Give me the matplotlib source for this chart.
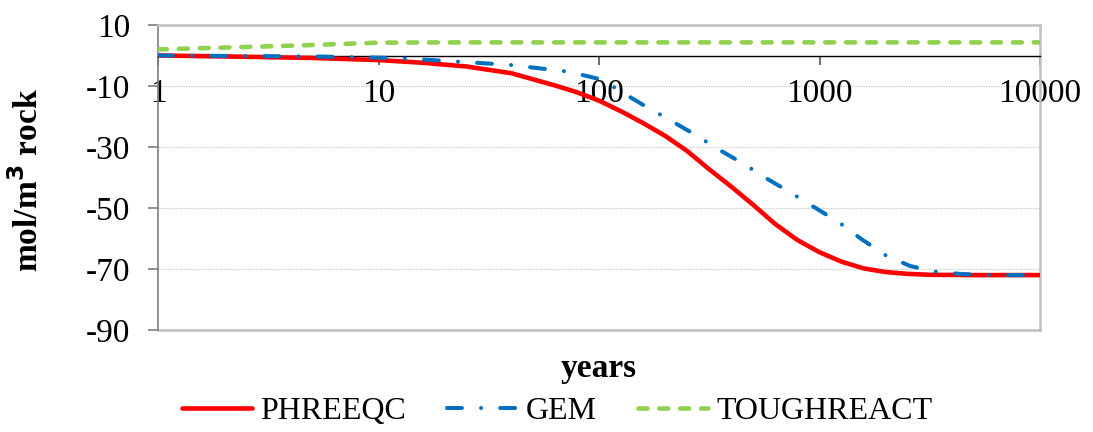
import matplotlib
matplotlib.use("Agg")
import matplotlib.pyplot as plt
from matplotlib.ticker import FixedLocator, FixedFormatter, NullLocator

plt.rcParams['font.family'] = ['Liberation Serif', 'DejaVu Serif']

# time (years) and cumulative amount (mol/m3 rock) for each code
phreeqc_years = [1, 2, 5, 10, 16, 25, 40, 63, 79, 100, 126, 158, 200, 251,
                 316, 398, 501, 631, 794, 1000, 1259, 1585, 1995, 2512, 3162,
                 5012, 10000]
phreeqc_vals = [0.0, -0.3, -0.8, -1.5, -2.4, -3.6, -5.8, -9.8, -12.0, -14.8,
                -18.3, -22.1, -26.4, -31.3, -37.3, -43.0, -49.0, -55.3, -60.5,
                -64.5, -67.6, -69.8, -71.0, -71.6, -71.9, -72.0, -72.0]

gem_years = [1, 5, 10, 12.6, 22.9, 39.8, 72.4, 97.7, 112, 126, 162, 209, 269,
             347, 447, 575, 741, 955, 1230, 1549, 1995, 2570, 3467, 4571,
             6310, 10000]
gem_vals = [0.0, -0.3, -0.7, -0.9, -2.0, -3.1, -5.3, -7.5, -9.5, -11.9, -16.6,
            -21.1, -25.7, -30.7, -35.3, -40.3, -45.0, -49.9, -54.8, -60.2,
            -65.5, -69.0, -71.1, -71.7, -72.0, -72.0]

tough_years = [1, 2, 4.4, 10, 20, 100, 1000, 10000]
tough_vals = [2.0, 2.6, 3.3, 4.2, 4.3, 4.3, 4.3, 4.3]

x_ticks = [1, 10, 100, 1000, 10000]
x_tick_labels = ['1', '10', '100', '1000', '10000']
y_ticks = [10, -10, -30, -50, -70, -90]
y_tick_labels = ['10', '-10', '-30', '-50', '-70', '-90']
series_names = ['PHREEQC', 'GEM', 'TOUGHREACT']

FS = 24
LEG_FS = 23

fig = plt.figure(figsize=(10.93, 4.32), dpi=100)
ax = fig.add_axes([158 / 1093, 1 - 330 / 432, (1040 - 158) / 1093, (330 - 25) / 432])

ax.set_xscale('log')
ax.set_xlim(1, 10000)
ax.set_ylim(-90, 10)

# grid and frame
for yv in [-10, -30, -50, -70]:
    ax.axhline(yv, color='#C8C8C8', lw=0.9, ls=(0, (1, 1)), zorder=0)
ax.axhline(-90, color='#BFBFBF', lw=1.8, zorder=1, clip_on=False)
for side in ['top', 'right']:
    ax.spines[side].set_color('#BFBFBF')
    ax.spines[side].set_linewidth(1.8)
ax.spines['left'].set_color('#7F7F7F')
ax.spines['left'].set_linewidth(1.2)
ax.spines['bottom'].set_position(('data', 0))
ax.spines['bottom'].set_color('black')
ax.spines['bottom'].set_linewidth(1.0)

l1, = ax.plot(phreeqc_years, phreeqc_vals, color='#FF0000', lw=3.3,
              solid_capstyle='round', solid_joinstyle='round', zorder=3)
l2, = ax.plot(gem_years, gem_vals, color='#0070C0', lw=2.9,
              dash_capstyle='round', dash_joinstyle='round', zorder=4)
l2.set_dashes((3.7, 4.75, 0.01, 4.75))
l3, = ax.plot(tough_years, tough_vals, color='#92D050', lw=3.3,
              dash_capstyle='round', zorder=3)
l3.set_dashes((1.95, 2.6))

ax.xaxis.set_major_locator(FixedLocator(x_ticks))
ax.xaxis.set_major_formatter(FixedFormatter(x_tick_labels))
ax.xaxis.set_minor_locator(NullLocator())
ax.yaxis.set_major_locator(FixedLocator(y_ticks))
ax.yaxis.set_major_formatter(FixedFormatter(y_tick_labels))

ax.tick_params(axis='x', direction='out', length=6.5, width=1.2, colors='#555555',
               labelcolor='black', labelsize=FS, pad=10)
ax.tick_params(axis='y', direction='out', length=7, width=1.2, colors='#7F7F7F',
               labelcolor='black', labelsize=FS, pad=13)

fig.text((158 + 1040) / 2 / 1093, 1 - 368 / 432, 'years', ha='center', va='center',
         fontsize=FS, fontweight='bold')
fig.text(28 / 1093, 1 - 180 / 432, 'mol/m$^\\mathbf{3}$ rock', ha='center', va='center',
         rotation=90, fontsize=FS, fontweight='bold')

fig.legend([l1, l2, l3], series_names, loc='center', bbox_to_anchor=(557 / 1093, 1 - 411 / 432),
           ncol=3, frameon=False, fontsize=LEG_FS, handlelength=2.2, handletextpad=0.25,
           columnspacing=1.3, borderpad=0, borderaxespad=0)

fig.savefig('out.png', dpi=100)
